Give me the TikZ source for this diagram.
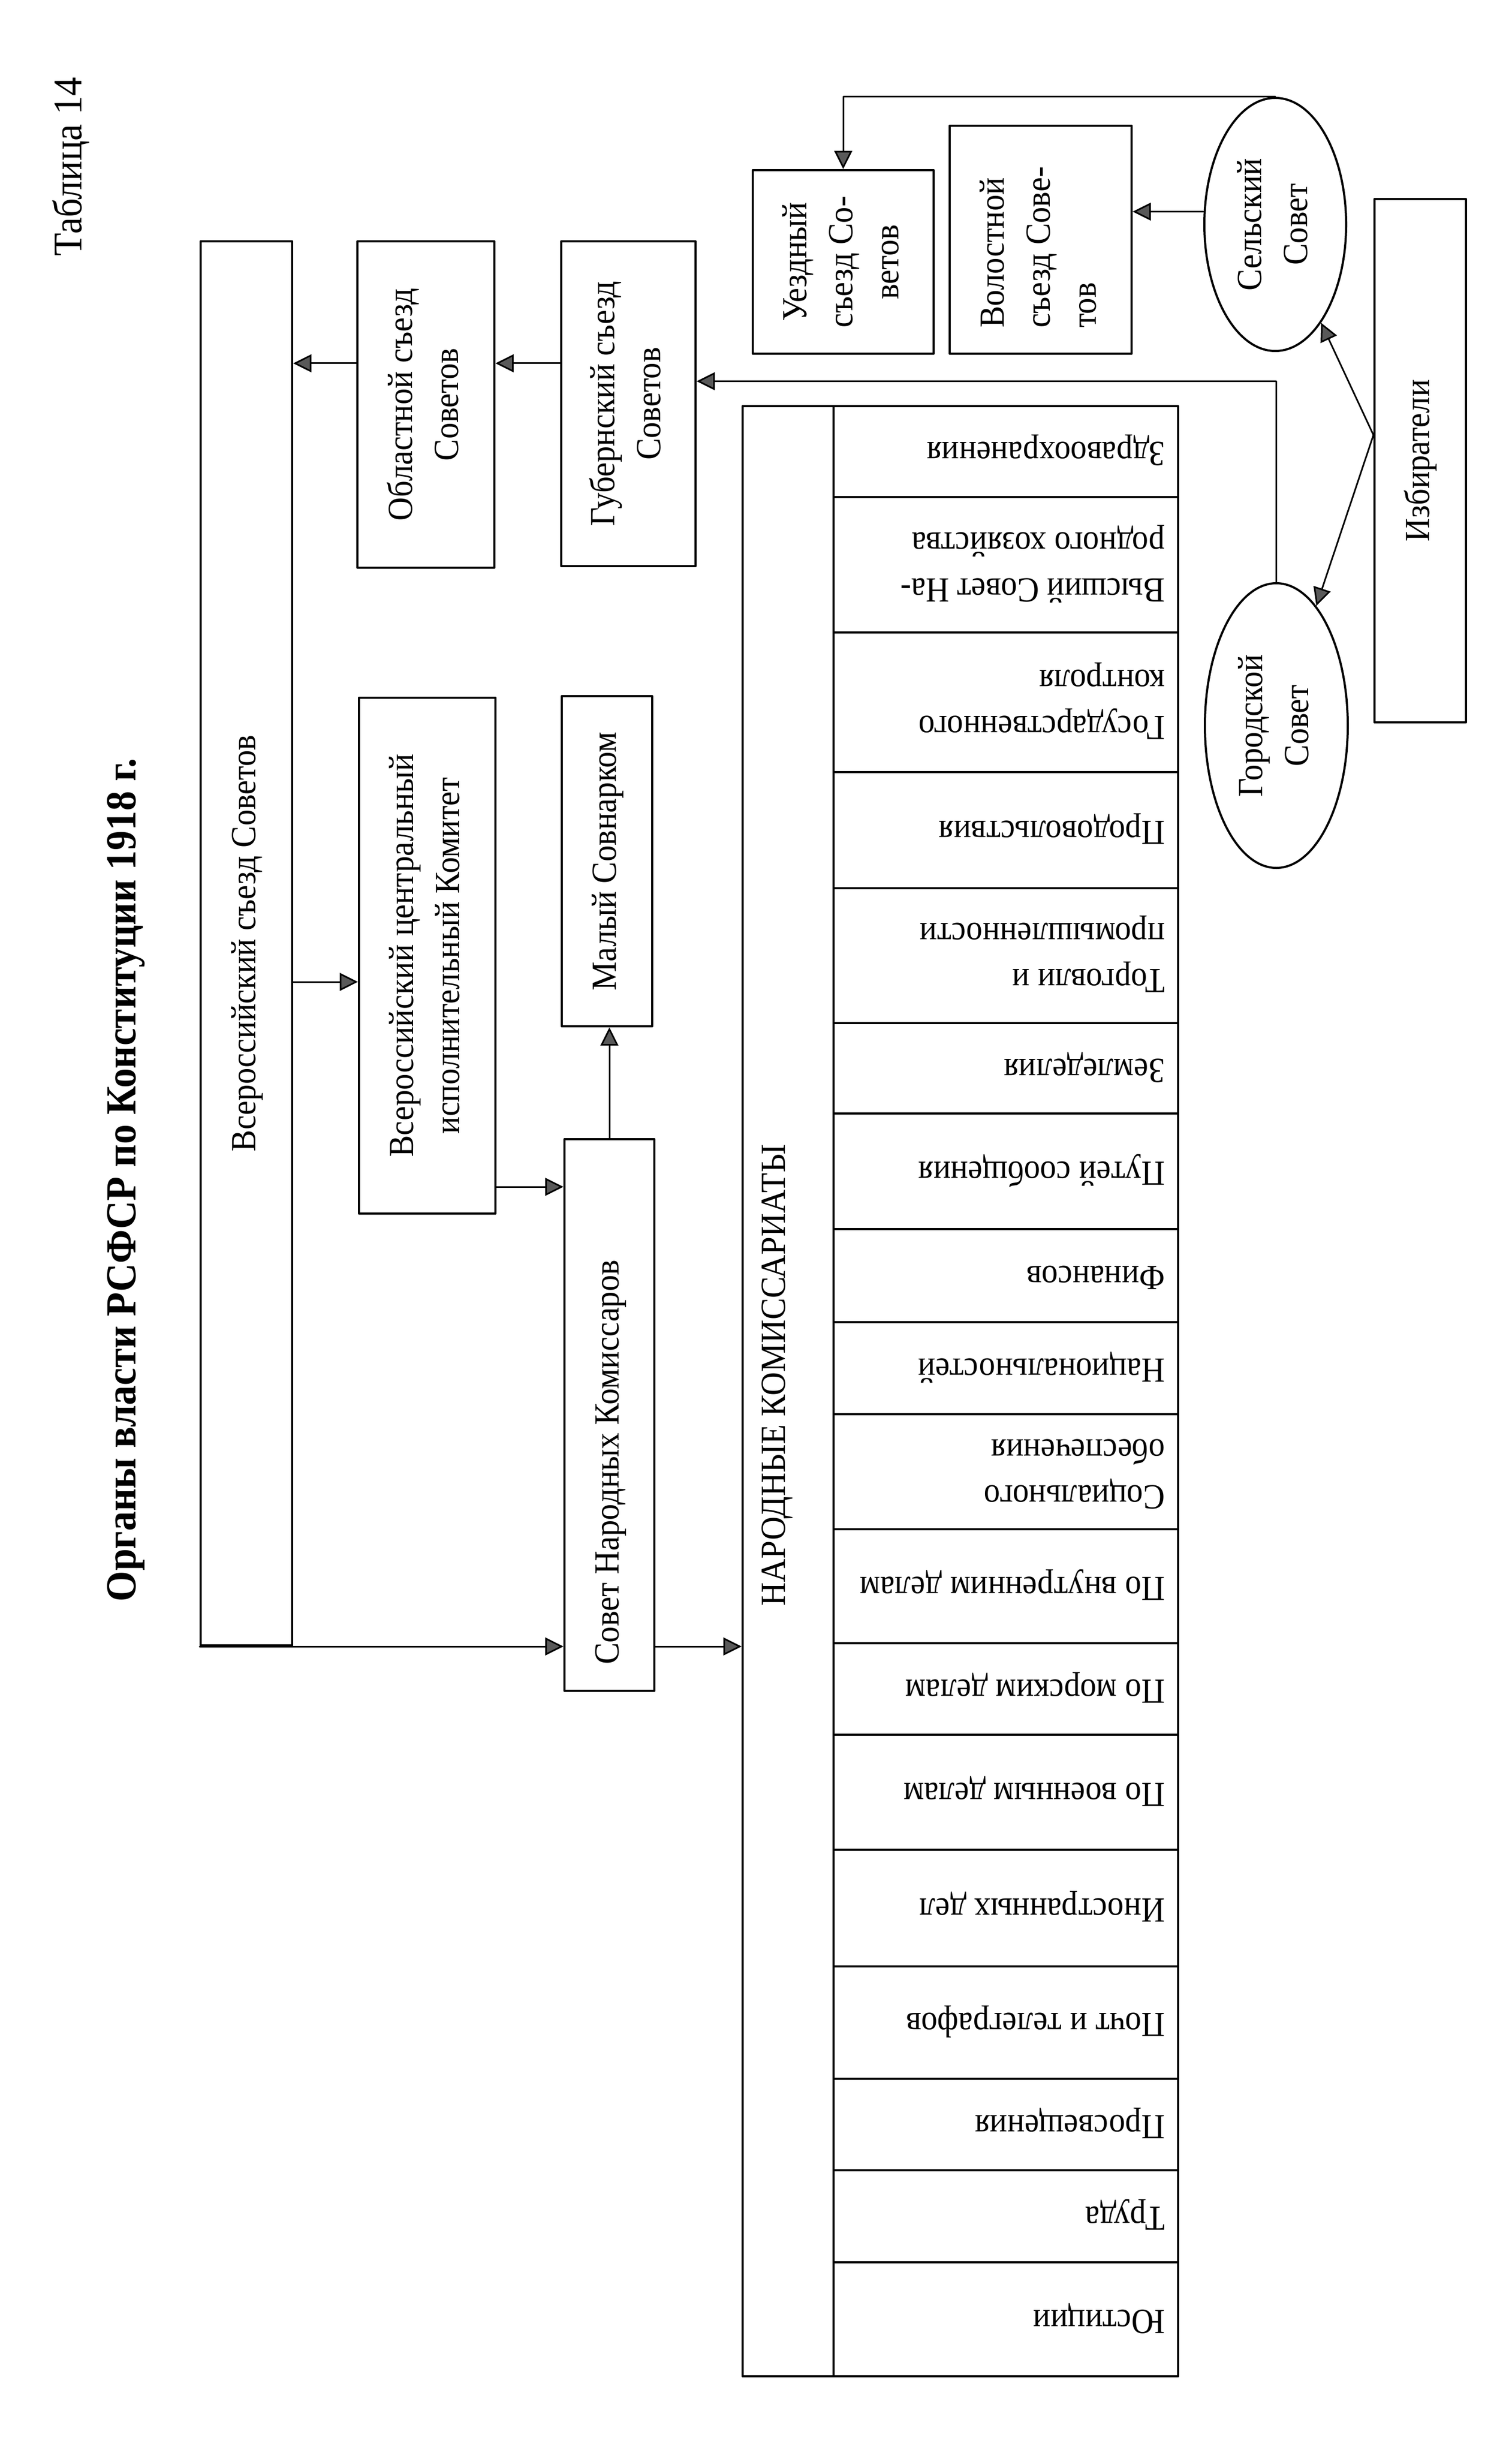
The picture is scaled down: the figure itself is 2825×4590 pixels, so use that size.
\documentclass[tikz,border=0pt]{standalone}
\usepackage{fontspec}
\setmainfont{Liberation Serif}[FakeStretch=0.92]
\usepackage{graphicx}
\usetikzlibrary{arrows.meta,shapes.geometric}

\newcommand{\vtext}[1]{\rotatebox{90}{\begin{tabular}{@{}c@{}}#1\end{tabular}}}
\newcommand{\vtextl}[2]{\rotatebox{90}{\makebox[#1][l]{\begin{tabular}{@{}l@{}}#2\end{tabular}}}}
\newcommand{\utext}[1]{\rotatebox{180}{\begin{tabular}{@{}l@{}}#1\end{tabular}}}

\begin{document}
\begin{tikzpicture}[line cap=round,line join=round,x=0.25pt,y=-0.25pt,
  >={Triangle[length=8.5pt,width=8.3pt,fill=black!65]},
  font=\fontsize{16.5}{21.5}\selectfont,
  box/.style={draw,line width=1pt,inner sep=0pt},
  oval/.style={box,ellipse},
  cell/.style={box,minimum width=161pt},
  celltext/.style={anchor=east,inner sep=0pt},
  arr/.style={->,line width=0.75pt}]
\path[use as bounding box,fill=white] (0,0) rectangle (2825,4590);
\node[font=\fontsize{19}{23}\selectfont] (tab) at (133,312) {\rotatebox{90}{Таблица 14}};
\node[font=\bfseries\fontsize{20}{24}\selectfont] (title) at (236,2205) {\rotatebox{90}{Органы власти РСФСР по Конституции 1918 г.}};
\node[box,minimum width=42.75pt,minimum height=656pt] (vss) at (460.5,1763) {\vtext{Всероссийский съезд Советов}};
\node[box,minimum width=64pt,minimum height=152.5pt] (obl) at (796,756) {\vtext{Областной съезд\\Советов}};
\node[box,minimum width=62.75pt,minimum height=151.75pt] (gub) at (1174.5,754.5) {\vtext{Губернский съезд\\Советов}};
\node[box,minimum width=63.75pt,minimum height=241pt] (vcik) at (798.5,1786) {\vtext{Всероссийский центральный\\исполнительный Комитет}};
\node[box,minimum width=42.25pt,minimum height=154.25pt] (maly) at (1134.5,1609.5) {\vtext{Малый Совнарком}};
\node[box,minimum width=42pt,minimum height=257.75pt] (snk) at (1139,2644.5) {\vtextl{233pt}{Совет Народных Комиссаров}};
\node[box,minimum width=42.5pt,minimum height=920.5pt] (nk) at (1473,2600) {};
\node (nklabel) at (1453,2570) {\rotatebox{90}{НАРОДНЫЕ КОМИССАРИАТЫ}};
\foreach \ya/\yb/\ktext [count=\i] in {
  759/929/{Здравоохранения},
  929/1182/{Высший Совет На-\\родного хозяйства},
  1182/1443/{Государственного\\контроля},
  1443/1660/{Продовольствия},
  1660/1912/{Торговли и\\промышленности},
  1912/2081/{Земледелия},
  2081/2297/{Путей сообщения},
  2297/2471/{Финансов},
  2471/2643/{Национальностей},
  2643/2858/{Социального\\обеспечения},
  2858/3071/{По внутренним делам},
  3071/3242/{По морским делам},
  3242/3457/{По военным делам},
  3457/3675/{Иностранных дел},
  3675/3885/{Почт и телеграфов},
  3885/4056/{Просвещения},
  4056/4228/{Труда},
  4228/4441/{Юстиции}}
{
  \node[cell,minimum height={0.25pt*(\yb-\ya)}] (k\i) at (1880,{(\ya+\yb)/2}) {};
  \node[celltext] (t\i) at ([xshift=-6.5pt]k\i.east) {\utext{\ktext}};
}
\node[box,minimum width=84.5pt,minimum height=85.75pt] (uezd) at (1576,489.5) {\vtext{Уездный\\съезд Со-\\ветов}};
\node[box,minimum width=85pt,minimum height=106.5pt] (vol) at (1945,448) {\vtextl{82.5pt}{Волостной\\съезд Сове-\\тов}};
\node[oval,minimum width=66.25pt,minimum height=118.25pt] (sel) at (2383.5,419.5) {\vtext{Сельский\\Совет}};
\node[oval,minimum width=66.75pt,minimum height=133pt] (gor) at (2385.5,1356) {\vtext{Городской\\Совет}};
\node[box,minimum width=42.75pt,minimum height=244.5pt] (izb) at (2654.5,861) {\vtext{Избиратели}};
\coordinate (a1) at ([yshift=19.25pt]obl.west);
\draw[arr] (a1) -- (a1 -| vss.east);
\draw[arr] (gub.west |- a1) -- (a1 -| obl.east);
\coordinate (a2) at ([yshift=10.5pt]gub.east);
\draw[arr] (gor.north) |- (a2);
\draw[arr] (sel.north) -| (uezd.north);
\coordinate (a3) at ([yshift=6pt]sel.west);
\draw[arr] (a3) -- (a3 -| vol.east);
\coordinate (a4) at ([yshift=12pt]izb.west);
\draw[arr] (a4) -- (sel);
\draw[arr] (a4) -- (gor);
\coordinate (a5) at ([yshift=-12.25pt]vcik.west);
\draw[arr] (a5 -| vss.east) -- (a5);
\coordinate (a6) at ([yshift=13pt]vcik.south east);
\draw[arr] (a6) -- (a6 -| snk.west);
\draw[arr] (snk.north) -- (snk.north |- maly.south);
\draw[arr] (vss.south west) -- (vss.south west -| snk.west);
\draw[arr] (snk.east |- vss.south) -- (nk.west |- vss.south);
\end{tikzpicture}
\end{document}
